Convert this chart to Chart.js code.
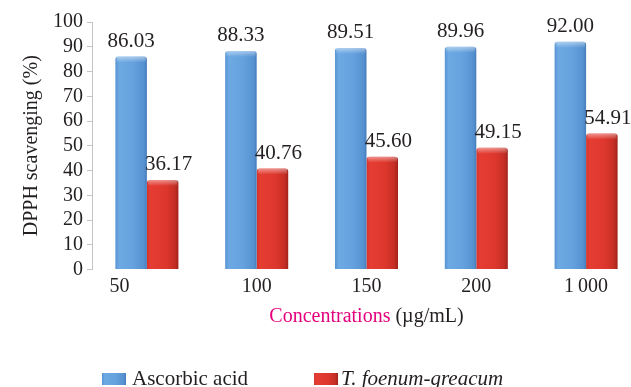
<!DOCTYPE html>
<html>
<head>
<meta charset="utf-8">
<script src="https://cdn.jsdelivr.net/npm/chart.js@4/dist/chart.umd.min.js"></script>
<style>
  html, body { margin: 0; padding: 0; background: #fff; overflow: hidden; }
  #wrap { width: 631px; height: 387px; overflow: hidden; }
  canvas { display: block; }
</style>
</head>
<body>
<div id="wrap"><canvas id="c" width="641" height="387"></canvas></div>
<script>
// Concentrations tested (µg/mL)
const CATEGORIES = ['50', '100', '150', '200', '1\u2009000'];
// DPPH radical scavenging (%)
const ASCORBIC = [86.03, 88.33, 89.51, 89.96, 92.00];
const FENUGREEK = [36.17, 40.76, 45.60, 49.15, 54.91];
// Y axis ticks
const Y_MIN = 0, Y_MAX = 100, Y_STEP = 10;

const INK = '#231f20';
const SERIF = '"Liberation Serif", "Times New Roman", serif';
const CAT_PCT = 0.574;

// horizontal shading that gives the columns their rounded look
const BLUE_STOPS = [[0, '#5794d3'], [0.12, '#6da9e3'], [0.55, '#65a2de'], [0.9, '#5692d1'], [1, '#477dbb']];
const RED_STOPS = [[0, '#d5322b'], [0.12, '#e63d33'], [0.6, '#dd372d'], [0.88, '#c62e25'], [1, '#a2231b']];

function shaded(stops) {
  return (c) => {
    const chart = c.chart;
    const xs = chart.scales && chart.scales.x;
    if (!xs || c.type !== 'data' || !chart.chartArea) return stops[2][1];
    const w = xs.width / chart.data.labels.length * CAT_PCT / 2;
    const center = xs.getPixelForValue(c.dataIndex) + (c.datasetIndex - 0.5) * w;
    const g = chart.ctx.createLinearGradient(center - w / 2, 0, center + w / 2, 0);
    stops.forEach(([p, col]) => g.addColorStop(p, col));
    return g;
  };
}

// soft highlight along the top edge of every column
const bevel = {
  id: 'bevel',
  afterDatasetsDraw(chart) {
    const ctx = chart.ctx;
    chart.data.datasets.forEach((ds, i) => {
      chart.getDatasetMeta(i).data.forEach(bar => {
        const l = bar.x - bar.width / 2;
        const g = ctx.createLinearGradient(0, bar.y, 0, bar.y + 6);
        g.addColorStop(0, 'rgba(255,255,255,0.45)');
        g.addColorStop(1, 'rgba(255,255,255,0)');
        ctx.save();
        ctx.fillStyle = g;
        ctx.fillRect(l + 1, bar.y, bar.width - 2, 6);
        ctx.restore();
      });
    });
  }
};

// value printed above each column
const valueLabels = {
  id: 'valueLabels',
  afterDatasetsDraw(chart, args, opts) {
    const ctx = chart.ctx;
    ctx.save();
    ctx.font = '21px ' + SERIF;
    ctx.fillStyle = INK;
    ctx.textAlign = 'center';
    ctx.textBaseline = 'alphabetic';
    chart.data.datasets.forEach((ds, i) => {
      const dx = opts.shift[i] || 0;
      chart.getDatasetMeta(i).data.forEach((bar, j) => {
        ctx.fillText(ds.data[j].toFixed(2), bar.x + dx, bar.y - 10);
      });
    });
    ctx.restore();
  }
};

// two-colour axis title and the legend underneath
const footer = {
  id: 'footer',
  afterDraw(chart) {
    const ctx = chart.ctx;
    const xs = chart.scales.x;
    const area = chart.chartArea;
    ctx.save();
    ctx.textBaseline = 'alphabetic';
    ctx.textAlign = 'left';

    ctx.font = '20px ' + SERIF;
    const parts = [['Concentrations', '#e4007c'], [' (\u00b5g/mL)', INK]];
    const total = parts.reduce((s, p) => s + ctx.measureText(p[0]).width, 0);
    let x = (area.left + area.right) / 2 - total / 2;
    const ty = xs.top + 52.5;
    parts.forEach(([t, col]) => {
      ctx.fillStyle = col;
      ctx.fillText(t, x, ty);
      x += ctx.measureText(t).width;
    });

    const ly = 385;
    let lx = 102;
    chart.data.datasets.forEach((ds, i) => {
      const stops = i === 0 ? BLUE_STOPS : RED_STOPS;
      const g = ctx.createLinearGradient(lx, 0, lx + 24, 0);
      stops.forEach(([p, col]) => g.addColorStop(p, col));
      ctx.fillStyle = g;
      ctx.fillRect(lx, ly - 12, 24, 12);
      ctx.font = (ds.italic ? 'italic ' : '') + '21px ' + SERIF;
      ctx.fillStyle = INK;
      const tx = lx + 24 + (ds.italic ? 3 : 6);
      ctx.fillText(ds.label, tx, ly);
      lx = tx + ctx.measureText(ds.label).width + 66;
    });
    ctx.restore();
  }
};

new Chart(document.getElementById('c'), {
  type: 'bar',
  data: {
    labels: CATEGORIES,
    datasets: [
      {
        label: 'Ascorbic acid',
        data: ASCORBIC,
        backgroundColor: shaded(BLUE_STOPS),
        borderWidth: 0,
        borderRadius: { topLeft: 3, topRight: 3 },
        borderSkipped: 'start'
      },
      {
        label: 'T. foenum-greacum',
        italic: true,
        data: FENUGREEK,
        backgroundColor: shaded(RED_STOPS),
        borderWidth: 0,
        borderRadius: { topLeft: 3, topRight: 3 },
        borderSkipped: 'start'
      }
    ]
  },
  options: {
    responsive: false,
    animation: false,
    events: [],
    layout: { padding: { top: 22, left: 0, right: 0, bottom: 0 } },
    datasets: { bar: { categoryPercentage: CAT_PCT, barPercentage: 1 } },
    plugins: {
      legend: { display: false },
      tooltip: { enabled: false },
      valueLabels: { shift: [0, 6] }
    },
    scales: {
      x: {
        grid: { display: false, drawTicks: false },
        border: { display: false },
        ticks: {
          color: INK,
          font: { family: SERIF, size: 20 },
          padding: 5,
          maxRotation: 0,
          autoSkip: false,
          // the first label sits left of its pair of columns
          callback: (v, i) => i === 0 ? CATEGORIES[i] + ' '.repeat(11) : CATEGORIES[i]
        },
        afterFit: (s) => { s.height = 117.5; }
      },
      y: {
        min: Y_MIN,
        max: Y_MAX,
        ticks: {
          stepSize: Y_STEP,
          autoSkip: false,
          color: INK,
          font: { family: SERIF, size: 20 },
          padding: 4
        },
        grid: { drawOnChartArea: false, drawTicks: true, tickLength: 5, color: '#c4c4c4' },
        border: { display: true, color: '#c4c4c4' },
        title: {
          display: true,
          text: 'DPPH scavenging (%)',
          color: INK,
          font: { family: SERIF, size: 20 },
          padding: { top: 20, bottom: 0 }
        },
        afterFit: (s) => { s.width = 92; }
      }
    }
  },
  plugins: [bevel, valueLabels, footer]
});
</script>
</body>
</html>
